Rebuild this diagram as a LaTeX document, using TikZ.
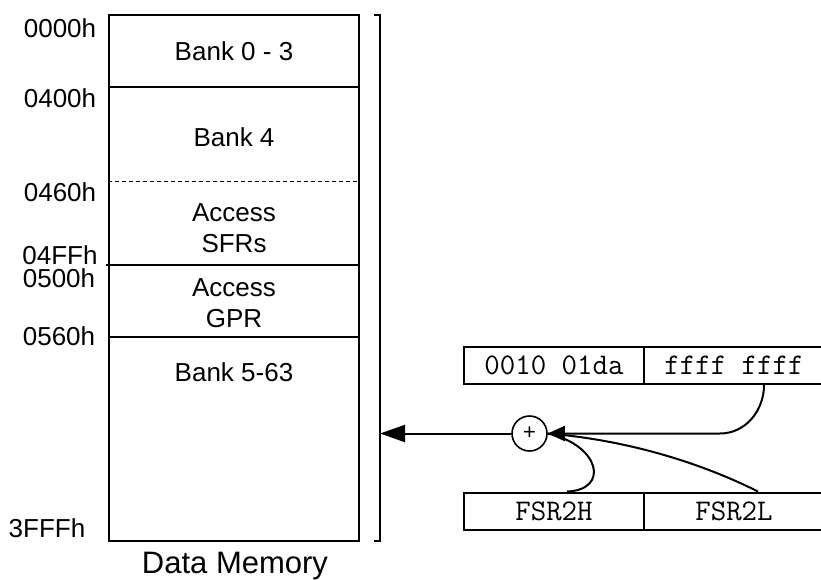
\documentclass[tikz,border=0pt]{standalone}
\usepackage{fontspec}
\setmainfont{Liberation Sans}
\usetikzlibrary{arrows.meta,calc}
\begin{document}
\begin{tikzpicture}[x=1pt,y=-1pt,
  addr/.style={font=\fontsize{26}{31}\selectfont, inner sep=0pt},
  lbl/.style={font=\fontsize{26}{31}\selectfont, align=center, inner sep=0pt},
  memline/.style={line width=1.3pt},
  reg/.style={draw, line width=2pt, minimum width=180pt, minimum height=37pt, inner sep=0pt,
              font=\ttfamily\fontsize{30}{34}\selectfont},
  conn/.style={line width=2pt},
  adder/.style={draw, circle, line width=1.6pt, minimum size=35pt, inner sep=0pt,
                font=\fontsize{22}{26}\selectfont}
]
\useasboundingbox (0,0) rectangle (821,579);

% memory map
\node[draw, memline, minimum width=250pt, minimum height=526pt, inner sep=0pt] (mem) at (234,278) {};
\draw[memline] (mem.west |- 0,87) -- (mem.east |- 0,87);
\draw[line width=1pt, dash pattern=on 4pt off 3pt] (mem.west |- 0,181) -- (mem.east |- 0,181);
\draw[memline] ([xshift=-2pt]mem.west |- 0,265) -- (mem.east |- 0,265);
\draw[memline] (mem.west |- 0,337) -- (mem.east |- 0,337);

\node[lbl] (l03) at (234,51) {Bank 0 - 3};
\node[lbl] (l4) at (234,137) {Bank 4};
\node[lbl] (lsfr) at (234,228) {Access\\SFRs};
\node[lbl] (lgpr) at (234,303) {Access\\GPR};
\node[lbl] (l563) at (234,372) {Bank 5-63};
\node[lbl, font=\fontsize{31}{37}\selectfont, anchor=base] (cap) at (235,573) {Data Memory};

\node[addr] (a0000) at (60,28) {0000h};
\node[addr] (a0400) at (60,98) {0400h};
\node[addr] (a0460) at (60,192) {0460h};
\node[addr] (a04ff) at (60,255) {04FFh};
\node[addr] (a0500) at (59,278) {0500h};
\node[addr] (a0560) at (59,336) {0560h};
\node[addr] (a3fff) at (47,528) {3FFFh};

% bracket
\draw[line width=1.3pt] (374,15) -- (380,15) -- (380,541) -- (374,541);
\coordinate (tgt) at (380,433.5);

% registers
\node[reg] (r00) at (554,365.5) {0010 01da};
\node[reg] (rff) at (734,365.5) {ffff ffff};
\node[reg] (fsrh) at (554,511) {FSR2H};
\node[reg] (fsrl) at (734,511) {FSR2L};

% adder
\node[adder] (plus) at (529.5,433.5) {+};

\draw[conn, -{Triangle[length=25pt,width=17pt]}] (plus.west) -- (tgt);
\draw[conn, -{Triangle[length=17pt,width=15pt]}] ([xshift=30pt]rff.south) to[out=-90,in=0] (720,433.5) -- (plus.east);
\draw[conn] ([xshift=24pt]fsrl.north) .. controls (725,475) and (650,442) .. (plus.east);
\draw[conn] ([xshift=13pt]fsrh.north) .. controls (610,490) and (600,445) .. (plus.east);
\end{tikzpicture}
\end{document}
